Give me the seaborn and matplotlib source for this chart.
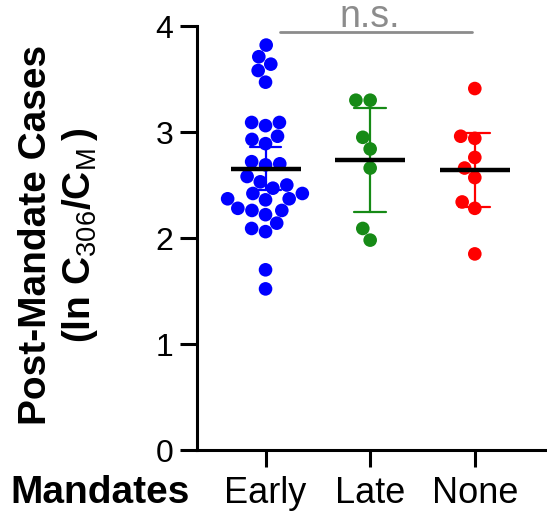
import numpy as np
import pandas as pd
import matplotlib
matplotlib.use("Agg")
import matplotlib.pyplot as plt
import seaborn as sns

# Values (ln C306/CM per county)
groups = ["Early", "Late", "None"]
early = [3.82, 3.71, 3.64, 3.58, 3.47, 3.09, 3.09, 3.06, 2.96, 2.93, 2.89,
         2.72, 2.70, 2.69, 2.58, 2.53, 2.50, 2.47, 2.42, 2.42, 2.37, 2.37,
         2.36, 2.28, 2.26, 2.26, 2.22, 2.14, 2.09, 2.06, 1.70, 1.52]
late = [3.30, 3.30, 2.95, 2.84, 2.66, 2.09, 1.98]
none = [3.41, 2.96, 2.94, 2.76, 2.66, 2.57, 2.34, 2.28, 1.85]
colors = ["#0000ff", "#168a16", "#ff0000"]

df = pd.DataFrame({
    "Mandates": ["Early"] * len(early) + ["Late"] * len(late) + ["None"] * len(none),
    "value": early + late + none,
})

# two-sided 95% t critical values by degrees of freedom
T95 = {6: 2.447, 8: 2.306, 31: 2.040}


def ci95(v):
    """Mean +/- t * SEM (95% confidence interval)."""
    v = np.asarray(v)
    m = v.mean()
    se = v.std(ddof=1) / np.sqrt(len(v))
    t = T95[len(v) - 1]
    return m - t * se, m + t * se


sns.set_theme(style="ticks")
plt.rcParams["font.family"] = ["Liberation Sans", "DejaVu Sans"]
plt.rcParams["mathtext.fontset"] = "custom"
plt.rcParams["mathtext.rm"] = "Liberation Sans"
plt.rcParams["mathtext.bf"] = "Liberation Sans:bold"
for key in ["text.color", "axes.labelcolor", "xtick.color", "ytick.color",
            "xtick.labelcolor", "ytick.labelcolor"]:
    plt.rcParams[key] = "black"

fig = plt.figure(figsize=(5.47, 5.11), dpi=100)
ax = fig.add_axes([197 / 547, 61 / 511, 350 / 547, 424 / 511])
ax.set_xlim(-0.655, 2.69)
ax.set_ylim(0, 4)

# individual points
sns.swarmplot(data=df, x="Mandates", y="value", hue="Mandates", order=groups,
              hue_order=groups, palette=colors, size=9.8, linewidth=0,
              legend=False, ax=ax, zorder=1)

# 95% CI error bars in group colours
sns.pointplot(data=df, x="Mandates", y="value", hue="Mandates", order=groups,
              hue_order=groups, palette=colors, errorbar=ci95, capsize=0.3,
              linestyles="none", markersize=0,
              err_kws={"linewidth": 1.6, "zorder": 3}, legend=False, ax=ax)

# mean line
sns.pointplot(data=df, x="Mandates", y="value", order=groups, color="black",
              errorbar=None, markers="_", markersize=50, markeredgewidth=3.2,
              linestyles="none", ax=ax, zorder=4)

ax.set_xlim(-0.655, 2.69)
ax.set_ylim(0, 4)
ax.set_yticks([0, 1, 2, 3, 4])

# n.s. bracket
ax.plot([0.137, 1.97], [3.94, 3.94], color="#8c8c8c", lw=2, clip_on=False)
ax.text(1.0, 3.99, "n.s.", ha="center", va="baseline", fontsize=27,
        color="#8c8c8c")

sns.despine(ax=ax)
for s in ["left", "bottom"]:
    ax.spines[s].set_linewidth(2.2)
    ax.spines[s].set_color("black")
ax.tick_params(axis="both", length=12, width=2.2, color="black",
               labelcolor="black")
ax.tick_params(axis="y", labelsize=23, pad=5)
ax.tick_params(axis="x", labelsize=26, pad=7)

ax.set_ylabel("Post-Mandate Cases\n(ln C$_{\\mathrm{306}}$/C$_{\\mathrm{M}}\\,$)",
              fontsize=28, fontweight="bold", linespacing=1.2, color="black")
ax.yaxis.set_label_coords(-0.277, 0.507)
ax.set_xlabel("Mandates", fontsize=28, fontweight="bold", color="black")
ax.xaxis.set_label_coords(-0.277, -0.125)
ax.xaxis.label.set_va("baseline")

fig.savefig("out.png", dpi=100)
